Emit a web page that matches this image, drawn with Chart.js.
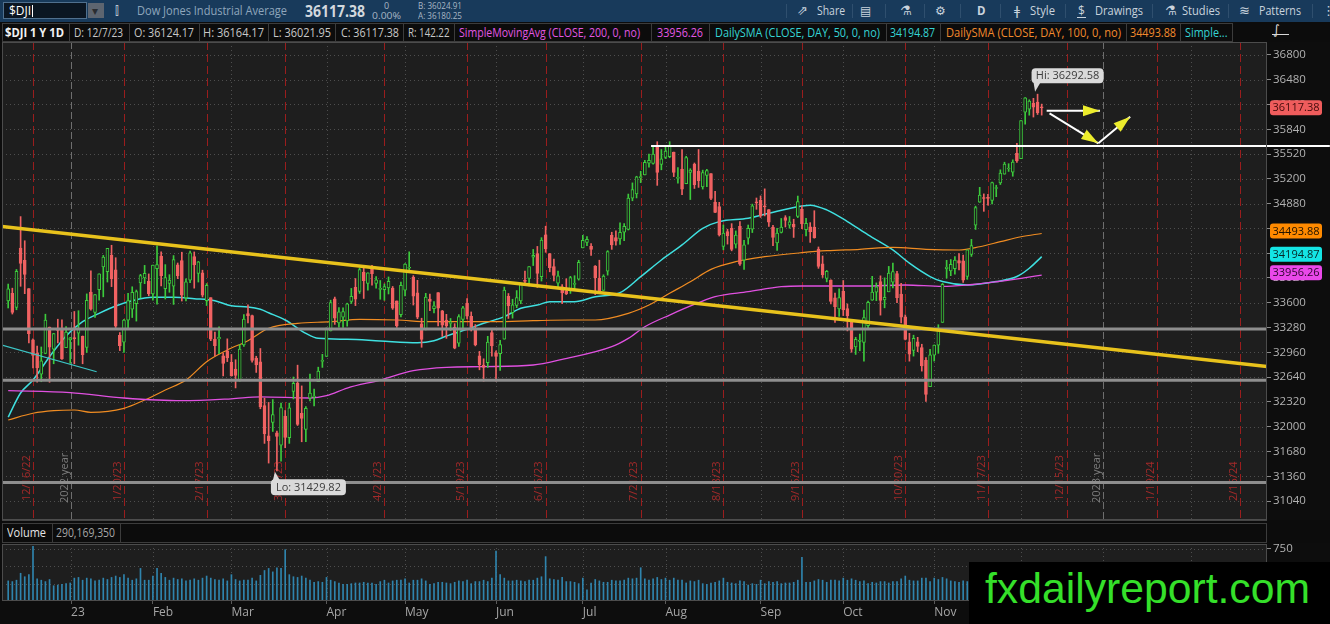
<!DOCTYPE html>
<html>
<head>
<meta charset="utf-8">
<title>$DJI 1 Y 1D</title>
<script src="https://cdn.jsdelivr.net/npm/chart.js@4.4.1/dist/chart.umd.min.js"></script>
<style>
html,body{margin:0;padding:0;background:#0c0c0c;width:1330px;height:624px;overflow:hidden;font-family:'Open Sans','Noto Sans',sans-serif;}
#topbar{position:absolute;left:0;top:0;width:1330px;height:22px;background:#183a5b;}
#info{position:absolute;left:0;top:22px;width:1330px;height:20px;background:#0c0c0c;}
#vh{position:absolute;left:0;top:520px;width:1330px;height:23px;background:#0c0c0c;}
.t{position:absolute;white-space:nowrap;}
#pc{position:absolute;left:0;top:42px;}
#vc{position:absolute;left:0;top:543px;}
#wm{position:absolute;left:969px;top:562px;width:361px;height:62px;background:#000;}
#wmt{position:absolute;left:16px;top:4.5px;font-family:'Liberation Sans',Arial,sans-serif;font-size:43px;line-height:1;color:#35e02a;white-space:nowrap;}
</style>
</head>
<body>
<div id="topbar"></div>
<div id="info"></div>
<canvas id="pc" width="1330" height="478"></canvas>
<div id="vh"></div>
<canvas id="vc" width="1330" height="81"></canvas>
<div id="wm"><span id="wmt">fxdailyreport.com</span></div>
<script>
// ===================== DATA =====================
// Daily bars, 12/8/22 .. 12/7/23 (index = trading day)
const opens = [
 33623,33722,33539,34306,34146,33782,33121,32948,32679,32944,33286,33000,33269,33265,33021,33121,
 33148,33207,33165,33023,33736,33476,33770,34063,34002,34213,34026,33179,33090,33375,33518,33587,33855,33920,33880,33714,
 34041,34201,33782,33849,33813,34090,34145,33662,33892,34195,33979,33986,33626,33665,33130,33133,32916,32979,32829,
 32742,32608,33054,33461,33434,32887,32837,32273,31882,32056,31921,31760,32136,31859,32454,32564,32171,31965,32367,32383,32581,32841,32907,
 33235,33650,33339,33415,33364,33617,33800,33747,33996,33849,34032,33849,33773,33770,33791,33790,33623,33445,33763,
 34045,33927,33727,33327,33261,33647,33522,33731,33496,33376,33332,33282,33078,33385,33595,33423,33248,32916,32796,32825,33215,32952,
 32943,33129,33682,33471,33564,33624,33880,33914,34188,34233,33938,34475,34236,34066,33854,33806,33753,33759,33835,33904,34308,
 34377,34328,34074,33914,33760,34009,34471,34442,34423,34510,34547,34949,35004,35214,35251,35403,35400,35618,35386,35475,
 35486,35545,35206,35327,35136,35283,35389,35301,35094,35244,35268,34898,34841,34327,34518,34559,34355,34587,34150,34433,34550,34894,34921,
 34848,34801,34575,34371,34507,34700,34600,34612,34715,34807,34544,34579,34575,34294,34103,33914,33891,33663,33520,33747,
 33525,33369,33031,33099,33087,33304,33634,33737,33874,33637,33741,33867,33976,33711,33418,33096,32985,33096,33021,32857,32516,32922,
 33053,33346,34037,34010,34040,34145,34141,33941,34223,34601,34897,34947,34956,34922,35075,35146,35260,35327,35285,35530,35461,
 36060,36100,36175,36190,36124.17
];
const highs = [
 33841,33788,34029,34712,34400,33782,33133,33040,33029,33452,33286,33205,33387,33379,33293,33152,
 33487,33497,33171,33714,34013,33704,33974,34211,34302,34342,34181,33215,33387,33721,33806,33764,33967,34082,33972,34086,
 34335,34257,34092,33962,34209,34113,34252,33908,34267,34256,34133,34020,33847,33665,33220,33289,32949,33134,32932,
 32864,33059,33447,33572,33440,32909,33009,32368,32313,32350,31944,32305,32209,32304,32641,32794,32526,32259,32678,32484,32768,32934,33275,
 33633,33673,33538,33533,33594,33785,33912,34046,34082,33987,34082,33937,33887,33843,33933,33810,33623,33868,34104,
 34257,33950,33889,33400,33721,33712,33616,33731,33501,33450,33397,33330,33446,33552,33652,33481,33318,32972,32876,33166,33256,32979,
 33116,33802,33719,33645,33757,33855,34010,34067,34288,34327,34440,34588,34236,34163,34008,33835,33909,33941,33949,34148,34470,
 34454,34362,34080,34149,33961,34272,34510,34528,34630,34621,35003,35147,35233,35296,35439,35518,35627,35679,35578,35630,
 35679,35545,35345,35578,35491,35330,35404,35578,35312,35321,35268,35038,34896,34604,34549,34621,34527,34648,34406,34603,34873,34952,34979,
 35070,34801,34598,34559,34688,34724,34713,34678,34977,34850,34690,34634,34788,34320,34204,34017,33897,33725,33780,33887,
 33585,33371,33154,33195,33505,33620,33941,33856,33947,33921,34069,34111,34004,33851,33443,33205,33181,33153,33064,32893,32999,33055,
 33316,33850,34147,34158,34195,34233,34214,34283,34418,34847,35090,35005,35001,35156,35117,35316,35414,35395,35445,35657,35952,
 36250,36220,36239,36292.58,36164.17
];
const lows = [
 33532,33454,33509,33812,33717,33081,32757,32573,32580,32941,32573,32812,33081,32869,33021,32818,
 32812,33052,32812,32957,33504,33410,33633,33676,33867,33808,33280,32982,32960,33275,33409,33363,33661,33846,33690,33634,
 33582,33816,33648,33735,33578,33911,33622,33623,33859,33788,33867,33674,33564,33110,32912,32942,32654,32840,32652,
 32500,32586,33036,33339,32833,32700,32231,31784,31530,31938,31429.82,31556,31728,31784,32358,32015,31805,31805,32332,32267,32581,32765,32907,
 33235,33320,33283,33281,33297,33590,33563,33720,33655,33761,33828,33787,33645,33631,33713,33514,33282,33418,33689,
 33990,33570,33394,33025,33248,33497,33470,33299,33164,33140,33240,33005,33036,33253,33391,33235,33043,32734,32586,32764,32909,32586,
 32725,33129,33397,33401,33536,33587,33831,33818,34080,33797,33880,34251,33999,33880,33780,33589,33705,33720,33781,33892,34308,
 34335,34210,33705,33722,33760,33956,34289,34343,34354,34401,34539,34916,34953,35150,35251,35350,35388,35115,35316,35461,
 35472,35228,35144,34994,35136,34932,35075,35089,35067,35097,34929,34763,34461,34283,34357,34270,34306,34083,34029,34356,34506,34806,34701,
 34721,34585,34338,34274,34500,34578,34562,34443,34699,34557,34462,34379,34433,34044,33926,33869,33584,33346,33423,33434,
 33236,32961,32932,32980,32846,33265,33631,33627,33440,33534,33741,33792,33600,33340,33120,32846,32911,32968,32717,32327,32516,32847,
 32947,33346,33917,33949,33968,34024,33862,33902,34198,34546,34896,34780,34859,34876,34969,35126,35260,35295,35233,35412,35461,
 35904,36021,35997,36030,36021.95
];
const closes = [
 33781,33476,34005,34108,33966,33202,32920,32757,32849,33376,33027,33203,33241,32875,33220,33147,
 33136,33269,32930,33630,33517,33704,33973,34189,34302,33910,33296,33044,33375,33629,33733,33743,33949,33978,33717,34086,
 34092,33949,33926,33891,34156,33949,33699,33869,34245,34089,34128,33696,33826,33129,33045,33153,32816,32889,32656,
 32661,33003,33390,33431,32856,32798,32254,31909,31819,32155,31874,32246,31861,32244,32560,32030,32105,32237,32432,32394,32717,32859,33274,
 33601,33402,33482,33485,33586,33684,33646,34029,33886,33987,33976,33897,33786,33808,33875,33530,33301,33826,34098,
 34051,33684,33414,33127,33674,33618,33561,33531,33309,33300,33348,33012,33420,33535,33426,33286,33055,32799,32764,33093,33042,32908,
 33061,33762,33562,33573,33665,33833,33876,34066,34212,33979,34408,34299,34053,33951,33946,33727,33714,33926,33852,34122,34407,
 34418,34288,33922,33734,33944,34261,34347,34395,34509,34585,34951,35061,35225,35227,35411,35438,35520,35282,35459,35559,
 35630,35282,35215,35065,35473,35314,35123,35176,35281,35307,34946,34765,34474,34500,34463,34288,34472,34099,34346,34559,34852,34890,34721,
 34837,34641,34443,34500,34576,34663,34645,34575,34907,34618,34624,34517,34440,34070,33963,34006,33618,33550,33666,33507,
 33433,33002,33129,33119,33407,33604,33739,33804,33631,33670,33984,34002,33665,33414,33127,32936,33141,33035,32784,32417,32928,33052,
 33274,33839,34061,34095,34152,34112,33891,34283,34337,34827,34991,34945,34947,35151,35088,35273,35390,35333,35416,35430,35950,
 36245,36204,36124,36054,36117.38
];
// Volume in millions of shares
const volumes = [
 290,280,300,400,350,380,790,320,300,280,310,220,230,240,250,260,
 330,340,300,330,320,290,300,330,310,340,360,340,380,330,300,320,470,300,300,360,
 470,400,340,300,330,310,320,290,300,320,300,330,360,330,310,300,320,290,380,
 310,290,300,300,330,290,370,440,470,420,480,470,740,380,350,340,360,330,300,270,280,270,340,
 300,280,260,240,240,250,260,260,270,260,260,240,280,300,260,290,300,300,320,
 260,300,300,320,290,240,250,270,270,260,250,270,290,280,300,250,280,280,300,280,330,720,
 380,330,290,290,300,290,280,300,300,330,350,640,320,310,300,340,280,280,270,250,330,
 160,260,310,290,270,270,300,290,290,300,330,320,330,480,320,300,320,340,310,330,
 300,330,300,300,260,290,280,300,250,240,260,270,290,330,270,260,250,290,280,230,250,240,300,
 250,280,270,280,250,260,260,270,300,630,270,270,290,310,300,270,300,300,290,330,
 300,320,300,280,290,250,270,260,280,280,260,280,280,320,360,300,290,290,330,330,280,330,
 310,340,320,290,280,270,290,280,240,330,310,280,300,250,240,230,130,280,290,300,460,
 360,320,300,300,290.17
];
// Moving averages (trading-day index, value)
const sma200Idx = [0,15,28,42,54,61,73,77,82,90,98,106,115,127,134,146,150,154,160,167,171,179,187,192,207,217,226,232,239,245,250];
const sma200Val = [32464,32439,32370,32335,32360,32385,32370,32400,32499,32602,32722,32766,32775,32796,32869,33032,33140,33290,33441,33600,33678,33742,33807,33816,33816,33829,33810,33829,33871,33915,33956.26];
const sma50Idx = [0,3,6,10,14,18,22,26,30,35,40,45,50,54,58,61,63,67,72,75,82,90,99,103,106,111,115,120,124,128,131,137,142,148,153,158,163,168,172,179,184,192,194,198,203,208,214,218,223,226,232,239,244,247,250];
const sma50Val = [32124,32435,32602,32903,33170,33355,33463,33558,33626,33670,33670,33652,33626,33560,33545,33515,33470,33377,33205,33140,33127,33106,33084,33110,33170,33257,33334,33420,33528,33570,33613,33613,33678,33730,33936,34152,34346,34561,34647,34690,34755,34849,34860,34799,34648,34476,34282,34110,33938,33873,33829,33873,33938,34045,34194.87];
const sma100Idx = [0,6,11,16,20,28,33,38,43,48,53,58,63,70,78,85,94,102,110,118,127,136,142,150,155,160,165,170,176,183,192,198,206,214,222,230,235,240,245,250];
const sma100Val = [32086,32173,32206,32215,32185,32237,32344,32473,32602,32839,32990,33110,33270,33334,33355,33386,33377,33355,33355,33355,33368,33377,33377,33463,33571,33722,33871,34031,34130,34194,34246,34272,34290,34315,34290,34281,34323,34388,34452,34493.88];
// Drawings (anchor index, price)
const levelPrices = [33260, 32600, 31280];
const yellowTrendIdx = [-1.5, 304.5], yellowTrendVal = [34584, 32778];
const cyanTrendIdx = [-1.5, 21.4], cyanTrendVal = [33054, 32709];
const whiteLineIdx = [155.5, 319.7], whiteLineVal = [35623, 35623];
const arrowFromIdx = [251.2, 251.9, 263.7], arrowFromVal = [36079, 36045, 35658];
const arrowToIdx = [264.1, 263.7, 271.4], arrowToVal = [36079, 35658, 36002];
const hiIdx = 249, hiVal = 36292.58, loIdx = 65, loVal = 31429.82;
// Axis ticks and calendar markers
const yTicks = [31040,31360,31680,32000,32320,32640,32960,33280,33600,33920,34240,34560,34880,35200,35520,35840,36160,36480,36800];
const monthLines = [35,54,77,96,118,139,159,182,202,224,245,286];
const yearLines = [15.2, 264.8], yearLabels = ['2022 year','2023 year'];
const expiryIdx = [6,28,48,67,91,111,130,153,173,192,217,237,256,278,298];
const expiryLabels = ['12/16/22','1/20/23','2/17/23','3/17/23','4/21/23','5/19/23','6/16/23','7/21/23','8/18/23','9/15/23','10/20/23','11/17/23','12/15/23','1/19/24','2/16/24'];
const monthTickIdx = [15.2,35,54,77,96,118,139,159,182,202,224,245,264.8,286];
const monthLabels = ['23','Feb','Mar','Apr','May','Jun','Jul','Aug','Sep','Oct','Nov','Dec','24','Feb'];
const volTicks = [250,500,750];

// ===================== HEADER (HTML text) =====================
function addText(parent, o) {
  const s = document.createElement('span');
  s.className = 't';
  s.textContent = o.t;
  s.style.left = o.x + 'px';
  s.style.top = (o.y || 0) + 'px';
  s.style.lineHeight = (o.h || 20) + 'px';
  s.style.fontSize = (o.s || 12) + 'px';
  s.style.color = o.c || '#c8c8c8';
  if (o.b) s.style.fontWeight = o.b;
  if (o.f) s.style.fontFamily = o.f;
  parent.appendChild(s);
  if (o.w) {
    const nat = s.getBoundingClientRect().width;
    if (nat > 0) { s.style.transformOrigin = '0 50%'; s.style.transform = 'scaleX(' + (o.w / nat) + ')'; }
  }
  return s;
}
function addBox(parent, x, y, w, h, css) {
  const d = document.createElement('div');
  d.style.position = 'absolute'; d.style.left = x + 'px'; d.style.top = y + 'px';
  d.style.width = w + 'px'; d.style.height = h + 'px';
  Object.assign(d.style, css || {});
  parent.appendChild(d); return d;
}
const topBar = document.getElementById('topbar');
addBox(topBar, 3, 2, 84, 17, {background:'#0b1622', border:'1px solid #50708e', boxSizing:'border-box'});
addBox(topBar, 88, 3, 16, 15, {background:'#5d6570'});
addText(topBar, {x:92, y:0, h:22, t:'▾', s:12, c:'#2a2d31'});
addText(topBar, {x:9, y:0, h:22, t:'$DJI', s:12, c:'#ffffff'});
addBox(topBar, 32, 5, 1, 12, {background:'#ffffff'});
addText(topBar, {x:115, y:0, h:22, t:'⫿', s:12, c:'#b8c6d4'});
addText(topBar, {x:136.5, y:0, h:22, w:150, t:'Dow Jones Industrial Average', s:12.5, c:'#8fa6bc'});
addText(topBar, {x:305, y:0, h:22, w:60, t:'36117.38', s:16, b:700, c:'#d2d8de'});
addText(topBar, {x:384, y:0, h:11, t:'0', s:9, c:'#a8b6c4'});
addText(topBar, {x:372, y:10, h:11, w:29, t:'0.00%', s:9, c:'#a8b6c4'});
addText(topBar, {x:418, y:0, h:11, w:44, t:'B: 36024.91', s:9, c:'#a8b6c4'});
addText(topBar, {x:418, y:10, h:11, w:44, t:'A: 36180.25', s:9, c:'#a8b6c4'});
const tb = '#c9d3dd';
addText(topBar, {x:797, y:0, h:22, t:'⇗', s:13, c:tb, f:'DejaVu Sans'});
addText(topBar, {x:817, y:0, h:22, w:28, t:'Share', s:12.5, c:tb});
addText(topBar, {x:860, y:0, h:22, t:'▤', s:12, c:tb, f:'DejaVu Sans'});
addText(topBar, {x:900, y:0, h:22, t:'⚗', s:13, c:tb, f:'DejaVu Sans'});
addText(topBar, {x:935, y:0, h:22, t:'⚙', s:12, c:tb, f:'DejaVu Sans'});
addText(topBar, {x:977, y:0, h:22, t:'D', s:11.5, b:700, c:tb});
addText(topBar, {x:1014, y:0, h:22, t:'ǂ', s:13, c:tb, f:'DejaVu Sans'});
addText(topBar, {x:1030, y:0, h:22, w:25, t:'Style', s:12.5, c:tb});
addText(topBar, {x:1078, y:0, h:22, t:'$', s:12, c:tb});
addBox(topBar, 1077, 17, 9, 1, {background:tb});
addText(topBar, {x:1095, y:0, h:22, w:48, t:'Drawings', s:12.5, c:tb});
addText(topBar, {x:1165, y:0, h:22, t:'⚗', s:13, c:tb, f:'DejaVu Sans'});
addText(topBar, {x:1182, y:0, h:22, w:38, t:'Studies', s:12.5, c:tb});
addText(topBar, {x:1239, y:0, h:22, t:'≋', s:13, c:tb, f:'DejaVu Sans'});
addText(topBar, {x:1259, y:0, h:22, w:42, t:'Patterns', s:12.5, c:tb});
addText(topBar, {x:1322, y:0, h:22, t:'⋮', s:13, c:tb, f:'DejaVu Sans'});
[786,852,885,924,960,1000,1065,1152,1228,1312].forEach(px => addBox(topBar, px, 4, 1, 14, {background:'#2f4f6e'}));

const info = document.getElementById('info');
addBox(info, 2, 1, 1231, 19, {border:'1px solid #3c3c3c', boxSizing:'border-box'});
[69,128.5,198.5,268,335,403,454,651,709,885.5,940,1125.5,1180].forEach(px => addBox(info, px, 1, 1, 19, {background:'#3c3c3c'}));
const infoItems = [
  {x:5, w:59, t:'$DJI 1 Y 1D', c:'#f2f2f2', b:700},
  {x:74, w:49, t:'D: 12/7/23'},
  {x:134, w:60, t:'O: 36124.17'},
  {x:203, w:61, t:'H: 36164.17'},
  {x:273, w:58, t:'L: 36021.95'},
  {x:340.5, w:58, t:'C: 36117.38'},
  {x:408, w:41.5, t:'R: 142.22'},
  {x:459, w:181, t:'SimpleMovingAvg (CLOSE, 200, 0, no)', c:'#e257e2'},
  {x:657, w:46, t:'33956.26', c:'#e257e2'},
  {x:715, w:165, t:'DailySMA (CLOSE, DAY, 50, 0, no)', c:'#35d4d4'},
  {x:890, w:45, t:'34194.87', c:'#35d4d4'},
  {x:946, w:175, t:'DailySMA (CLOSE, DAY, 100, 0, no)', c:'#f28a2c'},
  {x:1130, w:46, t:'34493.88', c:'#f28a2c'},
  {x:1184.5, w:42.5, t:'Simple...', c:'#35d4d4'}
];
infoItems.forEach(o => addText(info, Object.assign({y:1, h:19, s:12}, o)));
addBox(info, 1272, 12, 17, 1, {background:'#d8d8d8'});
addText(info, {x:1273, y:0, h:16, t:'∫', s:13, c:'#d8d8d8', f:'DejaVu Sans'});

const vh = document.getElementById('vh');
addBox(vh, 2, 3, 1265, 20, {border:'1px solid #3c3c3c', boxSizing:'border-box'});
addBox(vh, 52, 3, 1, 20, {background:'#3c3c3c'});
addBox(vh, 120, 3, 1, 20, {background:'#3c3c3c'});
addText(vh, {x:7, y:3, h:20, w:39, t:'Volume', s:12, c:'#e6e6e6'});
addText(vh, {x:56, y:3, h:20, w:59, t:'290,169,350', s:12, c:'#a6a6a6'});
addBox(vh, 2, 0, 1265, 1, {background:'#444'});

// watermark width fit
(function(){const s=document.getElementById('wmt');const w=s.getBoundingClientRect().width;if(w>0){s.style.transformOrigin='0 0';s.style.transform='scaleX('+(325/w)+')';}})();

// ===================== CHARTS =====================
Chart.defaults.font.family = "'Open Sans','Noto Sans',sans-serif";
const X_MIN = -1.5, X_MAX = 304.5;
const BG = '#1e1e1e', UP = '#3ccb3c', DN = '#f06262';
const isUp = i => closes[i] >= opens[i];

function seg(ctx, x1, y1, x2, y2) { ctx.beginPath(); ctx.moveTo(x1, y1); ctx.lineTo(x2, y2); ctx.stroke(); }
function rrect(ctx, x, y, w, h, r) {
  ctx.beginPath();
  if (ctx.roundRect) ctx.roundRect(x, y, w, h, r); else ctx.rect(x, y, w, h);
}

const pricePlugin = {
  id: 'pricePlugin',
  beforeDraw(chart) {
    const {ctx, chartArea: a} = chart;
    ctx.save();
    ctx.fillStyle = '#0d0d0d'; ctx.fillRect(0, 0, chart.width, chart.height);
    ctx.fillStyle = BG; ctx.fillRect(a.left, a.top, a.right - a.left, a.bottom - a.top);
    ctx.restore();
  },
  beforeDatasetsDraw(chart) {
    const {ctx, chartArea: a, scales: {x, y}} = chart;
    ctx.save();
    ctx.beginPath(); ctx.rect(a.left, a.top, a.right - a.left, a.bottom - a.top); ctx.clip();
    ctx.lineWidth = 1;
    ctx.strokeStyle = '#4e4e4e'; ctx.setLineDash([1, 3]);
    yTicks.forEach(v => { const p = Math.round(y.getPixelForValue(v)) + 0.5; seg(ctx, a.left, p, a.right, p); });
    monthLines.forEach(i => { const p = Math.round(x.getPixelForValue(i)) + 0.5; seg(ctx, p, a.top, p, a.bottom); });
    ctx.strokeStyle = '#6e6e6e'; ctx.setLineDash([7, 3]);
    yearLines.forEach(i => { const p = Math.round(x.getPixelForValue(i)) + 0.5; seg(ctx, p, a.top, p, a.bottom); });
    ctx.strokeStyle = '#9a1d1d'; ctx.setLineDash([8, 4]);
    expiryIdx.forEach(i => { const p = Math.round(x.getPixelForValue(i)) + 0.5; seg(ctx, p, a.top, p, a.bottom); });
    ctx.setLineDash([]);
    ctx.font = "11px 'Open Sans','Noto Sans',sans-serif";
    ctx.textAlign = 'left'; ctx.textBaseline = 'bottom';
    const ly = a.bottom - 19;
    expiryIdx.forEach((i, k) => {
      const p = x.getPixelForValue(i);
      ctx.save(); ctx.translate(p - 1, ly); ctx.rotate(-Math.PI / 2);
      ctx.fillStyle = '#a32a2a'; ctx.fillText(expiryLabels[k], 0, 0); ctx.restore();
    });
    yearLines.forEach((i, k) => {
      const p = x.getPixelForValue(i);
      ctx.save(); ctx.translate(p - 1, ly + 2); ctx.rotate(-Math.PI / 2);
      ctx.fillStyle = '#7c7c7c'; ctx.fillText(yearLabels[k], 0, 0); ctx.restore();
    });
    ctx.restore();
  },
  afterDatasetsDraw(chart) {
    const {ctx, chartArea: a, scales: {x, y}} = chart;
    ctx.save();
    arrowToIdx.forEach((ti, k) => {
      const x1 = x.getPixelForValue(arrowFromIdx[k]), y1 = y.getPixelForValue(arrowFromVal[k]);
      const x2 = x.getPixelForValue(ti), y2 = y.getPixelForValue(arrowToVal[k]);
      const ang = Math.atan2(y2 - y1, x2 - x1), L = 17, W = 5.5;
      const bx = x2 - L * Math.cos(ang), by = y2 - L * Math.sin(ang);
      ctx.beginPath(); ctx.moveTo(x2, y2);
      ctx.lineTo(bx + W * Math.sin(ang), by - W * Math.cos(ang));
      ctx.lineTo(bx - W * Math.sin(ang), by + W * Math.cos(ang));
      ctx.closePath(); ctx.fillStyle = '#ecec2c'; ctx.fill();
    });
    ctx.font = "11px 'Open Sans','Noto Sans',sans-serif";
    ctx.textAlign = 'center'; ctx.textBaseline = 'middle';
    const hx = x.getPixelForValue(hiIdx), hy = y.getPixelForValue(hiVal);
    ctx.fillStyle = '#dadada';
    ctx.beginPath(); ctx.moveTo(hx - 4, hy - 12); ctx.lineTo(hx + 3, hy - 12); ctx.lineTo(hx - 2.5, hy - 2.5); ctx.closePath(); ctx.fill();
    rrect(ctx, hx - 6, hy - 26, 72, 15, 4); ctx.fill();
    ctx.fillStyle = '#3c3c3c'; ctx.fillText('Hi: ' + hiVal.toFixed(2), hx + 30, hy - 18.3);
    const lx = x.getPixelForValue(loIdx), lyy = y.getPixelForValue(loVal);
    ctx.fillStyle = '#dadada';
    ctx.beginPath(); ctx.moveTo(lx - 4, lyy + 9.5); ctx.lineTo(lx + 3, lyy + 9.5); ctx.lineTo(lx - 2, lyy + 1); ctx.closePath(); ctx.fill();
    rrect(ctx, lx - 6, lyy + 8.5, 75, 16, 4); ctx.fill();
    ctx.fillStyle = '#3c3c3c'; ctx.fillText('Lo: ' + loVal.toFixed(2), lx + 31.5, lyy + 16.8);
    ctx.strokeStyle = '#4c4c4c'; ctx.lineWidth = 1;
    ctx.strokeRect(a.left + 0.5, a.top + 0.5, a.right - a.left - 1, a.bottom - a.top - 1);
    ctx.restore();
  },
  afterDraw(chart) {
    const {ctx, scales: {y}} = chart;
    // [value, bubble colour, text colour, vertical nudge of the bubble]
    const tags = [
      [closes[closes.length - 1], '#ef5c5c', '#420b0b', 0],
      [sma100Val[sma100Val.length - 1], '#ff8a00', '#1e1200', -2.5],
      [sma50Val[sma50Val.length - 1], '#14e4e4', '#062626', -2.5],
      [sma200Val[sma200Val.length - 1], '#ea48ea', '#2c062c', -2.5]
    ];
    ctx.save();
    ctx.font = "11px 'Open Sans','Noto Sans',sans-serif";
    ctx.textAlign = 'center'; ctx.textBaseline = 'middle';
    tags.forEach(([v, bg, fg, dy]) => {
      const py = y.getPixelForValue(v) + dy;
      ctx.fillStyle = bg; rrect(ctx, 1270, py - 7.5, 52, 15, 3); ctx.fill();
      ctx.fillStyle = fg; ctx.fillText(v.toFixed(2), 1296, py + 0.5);
    });
    ctx.restore();
  }
};

const lineDs = (idxArr, valArr, color, width, extra) => Object.assign({
  type: 'line',
  data: idxArr.map((xv, k) => ({x: xv, y: valArr[k]})),
  borderColor: color, borderWidth: width, pointRadius: 0, fill: false, tension: 0
}, extra || {});

const datasets = [
  lineDs(sma200Idx, sma200Val, '#e050e0', 1.3, {order: 10, cubicInterpolationMode: 'monotone'}),
  lineDs(sma100Idx, sma100Val, '#f08c22', 1.2, {order: 10, cubicInterpolationMode: 'monotone'}),
  lineDs(sma50Idx, sma50Val, '#3fe0e0', 1.5, {order: 10, cubicInterpolationMode: 'monotone'}),
  {
    type: 'bar', order: 6, grouped: false, barThickness: 1, minBarLength: 1,
    data: closes.map((c, i) => ({x: i, y: [lows[i], highs[i]]})),
    backgroundColor: c => isUp(c.dataIndex) ? UP : DN, borderWidth: 0
  },
  {
    type: 'bar', order: 5, grouped: false, barThickness: 3, minBarLength: 1,
    data: closes.map((c, i) => ({x: i, y: [opens[i], c]})),
    backgroundColor: c => isUp(c.dataIndex) ? BG : DN,
    borderColor: c => isUp(c.dataIndex) ? UP : DN,
    borderWidth: 1, borderSkipped: false
  }
];
levelPrices.forEach(p => datasets.push(lineDs([X_MIN, X_MAX], [p, p], '#8e8e8e', 3, {order: 3})));
datasets.push(lineDs(yellowTrendIdx, yellowTrendVal, '#e8c21c', 3.5, {order: 2}));
datasets.push(lineDs(cyanTrendIdx, cyanTrendVal, '#3cc6c6', 1.2, {order: 2}));
datasets.push(lineDs(whiteLineIdx, whiteLineVal, '#ffffff', 2, {order: 1, clip: {left: 0, top: 0, right: false, bottom: 0}}));
arrowFromIdx.forEach((fi, k) => datasets.push(lineDs([fi, arrowToIdx[k]], [arrowFromVal[k], arrowToVal[k]], '#ffffff', 2, {order: 1, clip: false})));

new Chart(document.getElementById('pc'), {
  type: 'bar',
  data: {datasets},
  options: {
    responsive: false, animation: false, events: [],
    layout: {padding: {left: 2, right: 0, top: 0, bottom: 0}},
    plugins: {legend: {display: false}, tooltip: {enabled: false}},
    scales: {
      x: {type: 'linear', min: X_MIN, max: X_MAX, display: false, offset: false, grid: {offset: false}},
      y: {
        type: 'linear', position: 'right', min: 30795, max: 36966,
        afterFit(a) { a.width = 63; a.paddingTop = 0; a.paddingBottom = 0; },
        afterBuildTicks(a) { a.ticks = yTicks.map(v => ({value: v})); },
        ticks: {color: '#b2b2b2', font: {size: 11.5}, padding: 2, callback: v => String(v)},
        grid: {drawOnChartArea: false, drawTicks: true, tickLength: 4, color: '#8a8a8a'},
        border: {display: false}
      }
    }
  },
  plugins: [pricePlugin]
});

const volPlugin = {
  id: 'volPlugin',
  beforeDraw(chart) {
    const {ctx, chartArea: a} = chart;
    ctx.save();
    ctx.fillStyle = '#0d0d0d'; ctx.fillRect(0, 0, chart.width, chart.height);
    ctx.fillStyle = BG; ctx.fillRect(a.left, a.top, a.right - a.left, a.bottom - a.top);
    ctx.restore();
  },
  beforeDatasetsDraw(chart) {
    const {ctx, chartArea: a, scales: {x, y}} = chart;
    ctx.save();
    ctx.beginPath(); ctx.rect(a.left, a.top, a.right - a.left, a.bottom - a.top); ctx.clip();
    ctx.lineWidth = 1; ctx.strokeStyle = '#4e4e4e'; ctx.setLineDash([1, 3]);
    volTicks.forEach(v => { const p = Math.round(y.getPixelForValue(v)) + 0.5; seg(ctx, a.left, p, a.right, p); });
    monthLines.concat(yearLines).forEach(i => { const p = Math.round(x.getPixelForValue(i)) + 0.5; seg(ctx, p, a.top, p, a.bottom); });
    ctx.restore();
  },
  afterDatasetsDraw(chart) {
    const {ctx, chartArea: a} = chart;
    ctx.save(); ctx.strokeStyle = '#4c4c4c'; ctx.lineWidth = 1;
    ctx.strokeRect(a.left + 0.5, a.top + 0.5, a.right - a.left - 1, a.bottom - a.top - 1);
    ctx.restore();
  }
};

new Chart(document.getElementById('vc'), {
  type: 'bar',
  data: {datasets: [{
    data: volumes.map((v, i) => ({x: i, y: v})),
    backgroundColor: '#2f84ad', barThickness: 1, borderWidth: 0
  }]},
  options: {
    responsive: false, animation: false, events: [],
    layout: {padding: {left: 2, right: 0, top: 1, bottom: 0}},
    plugins: {legend: {display: false}, tooltip: {enabled: false}},
    scales: {
      x: {
        type: 'linear', min: X_MIN, max: X_MAX, offset: false,
        afterFit(a) { a.height = 23; a.paddingLeft = 0; a.paddingRight = 0; },
        afterBuildTicks(a) { a.ticks = monthTickIdx.map(v => ({value: v})); },
        ticks: {color: '#a6a6a6', font: {size: 12}, align: 'start', padding: 1, autoSkip: false, maxRotation: 0, minRotation: 0,
                callback: (v, i) => monthLabels[i]},
        grid: {drawOnChartArea: false, drawTicks: true, tickLength: 3, color: '#5a5a5a', offset: false},
        border: {display: false}
      },
      y: {
        type: 'linear', position: 'right', min: 0, max: 822,
        afterFit(a) { a.width = 63; a.paddingTop = 0; a.paddingBottom = 0; },
        afterBuildTicks(a) { a.ticks = [{value: 750}]; },
        ticks: {color: '#b2b2b2', font: {size: 11.5}, padding: 2, callback: v => String(v)},
        grid: {drawOnChartArea: false, drawTicks: true, tickLength: 4, color: '#8a8a8a'},
        border: {display: false}
      }
    }
  },
  plugins: [volPlugin]
});
</script>
</body>
</html>
